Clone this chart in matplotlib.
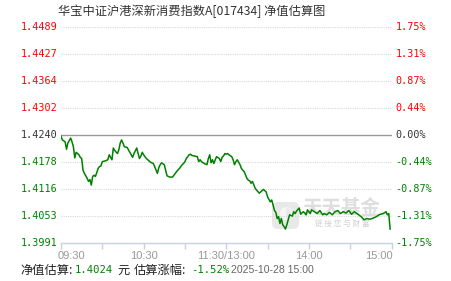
import numpy as np
import matplotlib
matplotlib.use("Agg")
import matplotlib.pyplot as plt
from matplotlib.patches import FancyBboxPatch
from matplotlib.transforms import IdentityTransform

# estimated NAV change (%) vs minutes since 09:30 (11:30/13:00 = 120)
am_min = [0, 1, 3, 4, 5, 7, 8, 9, 10, 11, 13, 14, 15, 16, 17, 19, 20, 21, 22, 23,
          24, 25, 27, 28, 29, 30, 32, 34, 35, 36, 37, 38, 39, 41, 42, 43, 44, 45, 46, 48,
          49, 51, 52, 53, 55, 56, 57, 58, 59, 60, 62, 64, 65, 67, 68, 70, 71, 72, 73, 75,
          76, 77, 79, 81, 82, 84, 86, 88, 89, 90, 91, 93, 94, 95, 97, 99, 100, 101, 102, 104,
          106, 107, 108, 109, 110, 111, 112, 113, 115, 116, 117, 118, 119, 120]
am_pct = [-0.02, -0.08, -0.11, -0.23, -0.13, -0.05, -0.11, -0.19, -0.37, -0.28,
          -0.32, -0.36, -0.38, -0.57, -0.62, -0.70, -0.75, -0.72, -0.81, -0.67,
          -0.65, -0.67, -0.54, -0.51, -0.50, -0.43, -0.42, -0.40, -0.32, -0.36,
          -0.40, -0.21, -0.25, -0.30, -0.24, -0.13, -0.08, -0.13, -0.19, -0.20,
          -0.24, -0.32, -0.36, -0.30, -0.21, -0.30, -0.38, -0.34, -0.28, -0.32,
          -0.38, -0.42, -0.44, -0.46, -0.51, -0.62, -0.53, -0.48, -0.45, -0.48,
          -0.57, -0.66, -0.68, -0.68, -0.65, -0.59, -0.54, -0.48, -0.46, -0.43,
          -0.38, -0.32, -0.31, -0.33, -0.34, -0.35, -0.43, -0.40, -0.43, -0.46,
          -0.48, -0.38, -0.32, -0.45, -0.40, -0.46, -0.40, -0.35, -0.38, -0.43,
          -0.36, -0.34, -0.30, -0.31]

pm_min = [121, 122, 124, 125, 126, 127, 128, 130, 131, 132, 133, 135, 136, 137, 138, 139,
          141, 142, 144, 145, 147, 149, 150, 152, 153, 154, 155, 156, 157, 158, 159, 160,
          161, 162, 163, 164, 165, 166, 168, 169, 170, 171, 173, 174, 176, 177, 178, 179,
          181, 182, 184, 186, 188, 190, 191, 193, 195, 197, 199, 201, 203, 205, 207, 209,
          211, 213, 215, 218, 220, 222, 224, 226, 229, 231, 232, 234, 236, 237, 238, 239]
pm_pct = [-0.30, -0.32, -0.35, -0.40, -0.48, -0.43, -0.40, -0.48, -0.54, -0.57,
          -0.59, -0.70, -0.73, -0.74, -0.78, -0.75, -0.86, -0.89, -0.94, -0.92,
          -0.88, -0.92, -1.00, -1.08, -1.05, -1.13, -1.22, -1.25, -1.35, -1.32,
          -1.43, -1.35, -1.45, -1.48, -1.52, -1.45, -1.37, -1.29, -1.31, -1.24,
          -1.27, -1.23, -1.18, -1.28, -1.24, -1.26, -1.29, -1.21, -1.27, -1.21,
          -1.24, -1.27, -1.22, -1.29, -1.27, -1.29, -1.25, -1.29, -1.24, -1.22,
          -1.27, -1.24, -1.26, -1.22, -1.28, -1.24, -1.27, -1.32, -1.37, -1.35,
          -1.36, -1.35, -1.32, -1.29, -1.28, -1.27, -1.24, -1.29, -1.27, -1.52]

left_labels = ["1.3991", "1.4053", "1.4116", "1.4178", "1.4240",
               "1.4302", "1.4364", "1.4427", "1.4489"]
right_labels = ["-1.75%", "-1.31%", "-0.87%", "-0.44%", "0.00%",
                "0.44%", "0.87%", "1.31%", "1.75%"]
time_ticks = [0, 60, 120, 180, 240]
time_labels = ["09:30", "10:30", "11:30/13:00", "14:00", "15:00"]

title = "华宝中证沪港深新消费指数A[017434] 净值估算图"
nav_est = "1.4024"
chg_est = "-1.52%"
stamp = "2025-10-28 15:00"

RED, GREEN, DARK = "#ff0000", "#008000", "#333333"
CJK = ["Noto Sans CJK SC", "DejaVu Sans"]
MONO = "DejaVu Sans Mono"

W, H = 451, 281
fig = plt.figure(figsize=(W / 100, H / 100), dpi=100)
fig.patch.set_facecolor("white")


def px(x, y):
    return x / W, 1 - y / H


x0, x1, ytop, ybot = 61, 391.5, 26.7, 243.3
ax = fig.add_axes([x0 / W, 1 - ybot / H, (x1 - x0) / W, (ybot - ytop) / H])
ax.set_xlim(0, 240)
ax.set_ylim(-1.75, 1.75)
ax.patch.set_alpha(0)
for s in ["top", "left", "right"]:
    ax.spines[s].set_visible(False)
ax.spines["bottom"].set_color("#c5d3e0")
ax.spines["bottom"].set_linewidth(1)

levels = np.linspace(-1.75, 1.75, 9)
for lv in levels[1:]:
    if abs(lv) < 1e-9:
        ax.axhline(lv, color="#999999", lw=1.0, zorder=2)
    else:
        ax.axhline(lv, color="#d9d9d9", lw=0.8, ls=(0, (1, 1)), zorder=1)

ax.set_yticks([])
ax.set_xticks(range(0, 241, 30))
ax.set_xticklabels([])
ax.tick_params(axis="x", length=4, width=1, color="#c5d3e0", direction="out")

# watermark (logo block + brand text), drawn in pixel space behind the axes
logo = FancyBboxPatch((272, H - 229), 27, 27, boxstyle="round,pad=0,rounding_size=6",
                      transform=IdentityTransform(), facecolor="#e8e8e8",
                      edgecolor="none", zorder=-1)
fig.patches.append(logo)
fig.text(*px(285.5, 213), "◐", fontsize=12, color="#f6f6f6", family="DejaVu Sans",
         ha="center", va="center", zorder=-1)
fig.text(*px(341, 208), "天天基金", fontsize=14, fontweight="bold", color="#dedede",
         family=CJK, ha="center", va="center", zorder=-1)
fig.text(*px(342, 224), "链 接 您 与 财 富", fontsize=5.5, color="#d0d0d0",
         family=CJK, ha="center", va="center", zorder=-1)

t = am_min + pm_min
v = am_pct + pm_pct
ax.plot(t, v, color=GREEN, lw=1.1, zorder=3)

for lv, lab_l, lab_r in zip(levels, left_labels, right_labels):
    c = RED if lv > 1e-9 else (GREEN if lv < -1e-9 else DARK)
    ax.text(-0.011, lv, lab_l, transform=ax.get_yaxis_transform(), ha="right",
            va="center", fontsize=7.3, family=MONO, color=c)
    ax.text(1.012, lv, lab_r, transform=ax.get_yaxis_transform(), ha="left",
            va="center", fontsize=7.3, family=MONO, color=c)

for i, (tk, lab) in enumerate(zip(time_ticks, time_labels)):
    ha = "left" if i == 0 else ("right" if i == len(time_ticks) - 1 else "center")
    xoff = -0.01 if i == 0 else (0.005 if ha == "right" else 0)
    ax.text(tk / 240 + xoff, -0.035, lab, transform=ax.transAxes, ha=ha, va="top",
            fontsize=8, family="Liberation Sans", color="#999999")

fig.text(*px(192, 11), title, fontsize=8.8, family=CJK, color=DARK,
         ha="center", va="center")

yb = 270
fig.text(*px(20, yb), "净值估算:", fontsize=8.8, family=CJK, color="#222222",
         va="center", ha="left")
fig.text(*px(75, yb), nav_est, fontsize=7.6, family=MONO, color=GREEN,
         va="center", ha="left")
fig.text(*px(117, yb), "元", fontsize=8.8, family=CJK, color="#222222",
         va="center", ha="left")
fig.text(*px(134, yb), "估算涨幅:", fontsize=8.8, family=CJK, color="#222222",
         va="center", ha="left")
fig.text(*px(191, yb), chg_est, fontsize=7.6, family=MONO, color=GREEN,
         va="center", ha="left")
fig.text(*px(231, yb), stamp, fontsize=7.6, family="Liberation Sans", color="#666666",
         va="center", ha="left")

fig.savefig("out.png", dpi=100, facecolor="white")
